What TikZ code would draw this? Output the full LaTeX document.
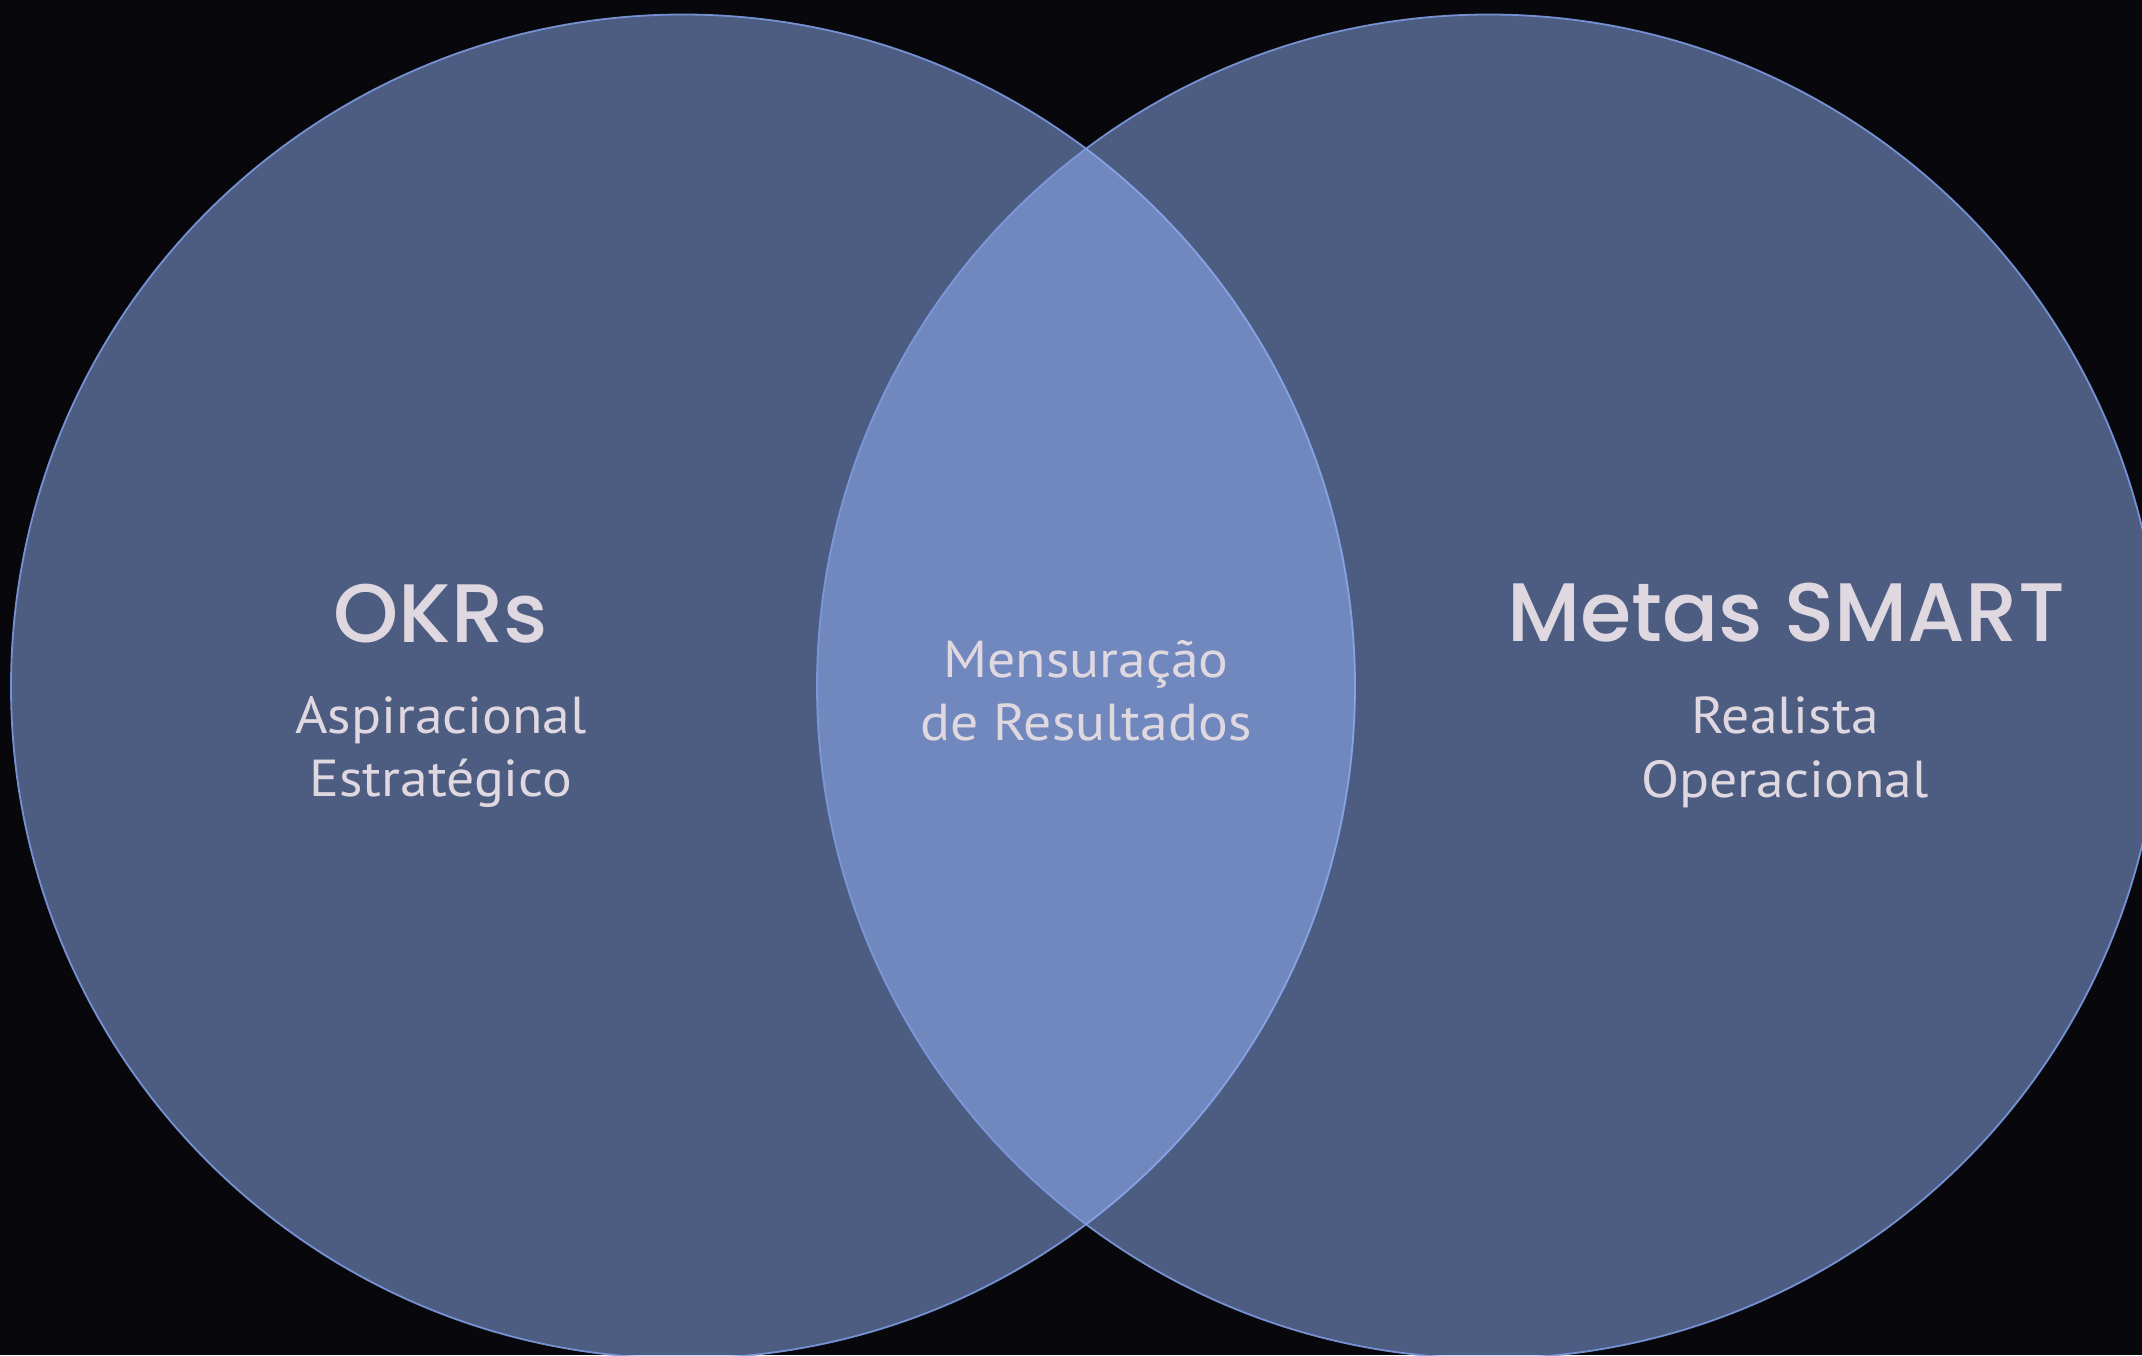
\documentclass[tikz,border=0pt]{standalone}
\usepackage{fontspec}
\setmainfont{PT Sans}[FakeStretch=1.07]
\newfontfamily\headfont{Poppins Medium}
\definecolor{bg}{RGB}{7,7,12}
\definecolor{circfill}{RGB}{148,180,248}
\definecolor{circline}{RGB}{125,155,225}
\definecolor{txt}{RGB}{224,216,224}
\begin{document}
\begin{tikzpicture}[x=1pt,y=-1pt,
  venn/.style={circle, minimum size=1344pt, inner sep=0pt, fill=circfill, fill opacity=0.5, draw=circline, draw opacity=0.9, line width=1.8pt},
  head/.style={text=txt, font=\headfont\fontsize{83}{83}\selectfont, anchor=base, inner sep=0pt},
  sub/.style={text=txt, font=\fontsize{52}{52}\selectfont, anchor=base, inner sep=0pt}]
\fill[bg] (0,0) rectangle (2142,1355);
\useasboundingbox (0,0) rectangle (2142,1355);
\node[venn] (okrc) at (683,686.5) {};
\node[venn] (smartc) at (1489,686.5) {};
\node[head] (okr) at (441,642) {OKRs};
\node[sub] (asp) at (441,733) {Aspiracional};
\node[sub] (est) at (441,796) {Estratégico};
\node[sub] (mens) at (1086,677) {Mensuração};
\node[sub] (res) at (1086,740) {de Resultados};
\node[head] (smart) at (1786,641) {Metas SMART};
\node[sub] (real) at (1785,733) {Realista};
\node[sub] (oper) at (1785,797) {Operacional};
\end{tikzpicture}
\end{document}
